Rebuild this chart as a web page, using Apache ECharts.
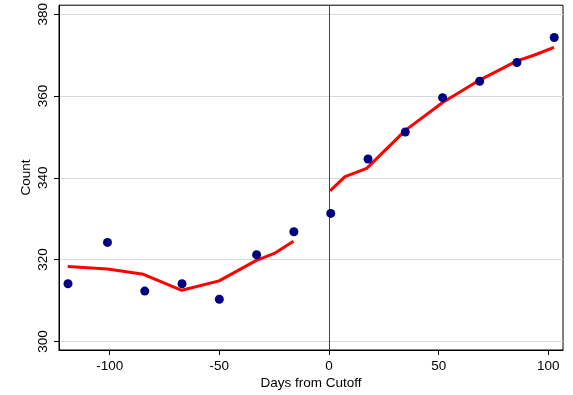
<!DOCTYPE html>
<html>
<head>
<meta charset="utf-8">
<script src="https://cdn.jsdelivr.net/npm/echarts@6/dist/echarts.min.js"></script>
<style>
  html, body { margin: 0; padding: 0; background: #fff; }
  #chart { width: 573px; height: 395px; }
</style>
</head>
<body>
<div id="chart"></div>
<script>
// Binned counts before and after the cutoff (bin midpoints in days)
const binDaysBefore = [-119, -101, -84, -67, -50, -33, -16];
const countsBefore  = [314.1, 324.2, 312.3, 314.1, 310.3, 321.2, 326.8];
const binDaysAfter  = [0.8, 17.8, 34.8, 51.8, 68.7, 85.7, 102.7];
const countsAfter   = [331.3, 344.6, 351.2, 359.6, 363.6, 368.2, 374.3];

// Local fit on each side of the cutoff
const fitDaysBefore = [-119.1, -101, -84.6, -67.1, -50.1, -33.1, -24.6, -16.2];
const fitBefore     = [318.3, 317.7, 316.4, 312.5, 314.8, 319.8, 321.6, 324.5];
const fitDaysAfter  = [0.5, 7.3, 17.2, 34.8, 51.8, 68.7, 85.7, 93.1, 102.6];
const fitAfter      = [336.8, 340.3, 342.3, 351.6, 358.4, 363.9, 368.6, 369.9, 371.9];

// Axis ticks
const xTicks = [-100, -50, 0, 50, 100];
const yTicks = [300, 320, 340, 360, 380];
const cutoff = 0;

const pairs = (xs, ys) => xs.map((x, i) => [x, ys[i]]);

const FONT = 'Liberation Sans, Arial, Helvetica, sans-serif';
const FS = 13.5;

const chart = echarts.init(document.getElementById('chart'), null, { renderer: 'canvas' });

const scatterStyle = {
  type: 'scatter',
  symbol: 'circle',
  symbolSize: 9,
  itemStyle: { color: '#000080', opacity: 1 },
  z: 5
};
const fitStyle = {
  type: 'line',
  symbol: 'none',
  smooth: false,
  lineStyle: { color: '#ff0000', width: 3 },
  z: 4
};

chart.setOption({
  animation: false,
  backgroundColor: '#ffffff',
  grid: {
    left: 59, right: 10, top: 5, bottom: 43,
    show: true, borderColor: '#000', borderWidth: 1, backgroundColor: 'transparent'
  },
  xAxis: {
    type: 'value',
    min: -123.1,
    max: 106.7,
    name: 'Days from Cutoff',
    nameLocation: 'middle',
    nameGap: 26,
    nameMoveOverlap: false,
    nameTextStyle: { fontFamily: FONT, fontSize: FS, color: '#000', verticalAlign: 'top' },
    axisLine: { show: true, onZero: false, lineStyle: { color: '#000', width: 1 } },
    axisTick: { show: true, length: 5, customValues: xTicks, lineStyle: { color: '#000' } },
    axisLabel: { customValues: xTicks, margin: 9, fontFamily: FONT, fontSize: FS, color: '#000' },
    splitLine: { show: false }
  },
  yAxis: {
    type: 'value',
    min: 297.9,
    max: 382.2,
    name: 'Count',
    nameLocation: 'middle',
    nameGap: 33,
    nameRotate: 90,
    nameMoveOverlap: false,
    nameTextStyle: {
      fontFamily: FONT, fontSize: FS, color: '#000',
      align: 'center', verticalAlign: 'middle'
    },
    axisLine: { show: true, onZero: false, lineStyle: { color: '#000', width: 1 } },
    axisTick: { show: true, length: 5, customValues: yTicks, lineStyle: { color: '#000' } },
    axisLabel: {
      customValues: yTicks, rotate: 90, margin: 9,
      fontFamily: FONT, fontSize: FS, color: '#000',
      align: 'center', verticalAlign: 'bottom'
    },
    splitLine: { show: true, lineStyle: { color: '#d9d9d9', width: 1 } }
  },
  series: [
    Object.assign({}, fitStyle, {
      name: 'fit before',
      data: pairs(fitDaysBefore, fitBefore),
      markLine: {
        silent: true,
        symbol: 'none',
        label: { show: false },
        lineStyle: { color: '#444444', width: 1, type: 'solid' },
        data: [{ xAxis: cutoff }]
      }
    }),
    Object.assign({}, fitStyle, { name: 'fit after', data: pairs(fitDaysAfter, fitAfter) }),
    Object.assign({}, scatterStyle, { name: 'before', data: pairs(binDaysBefore, countsBefore) }),
    Object.assign({}, scatterStyle, { name: 'after', data: pairs(binDaysAfter, countsAfter) })
  ]
});
</script>
</body>
</html>
